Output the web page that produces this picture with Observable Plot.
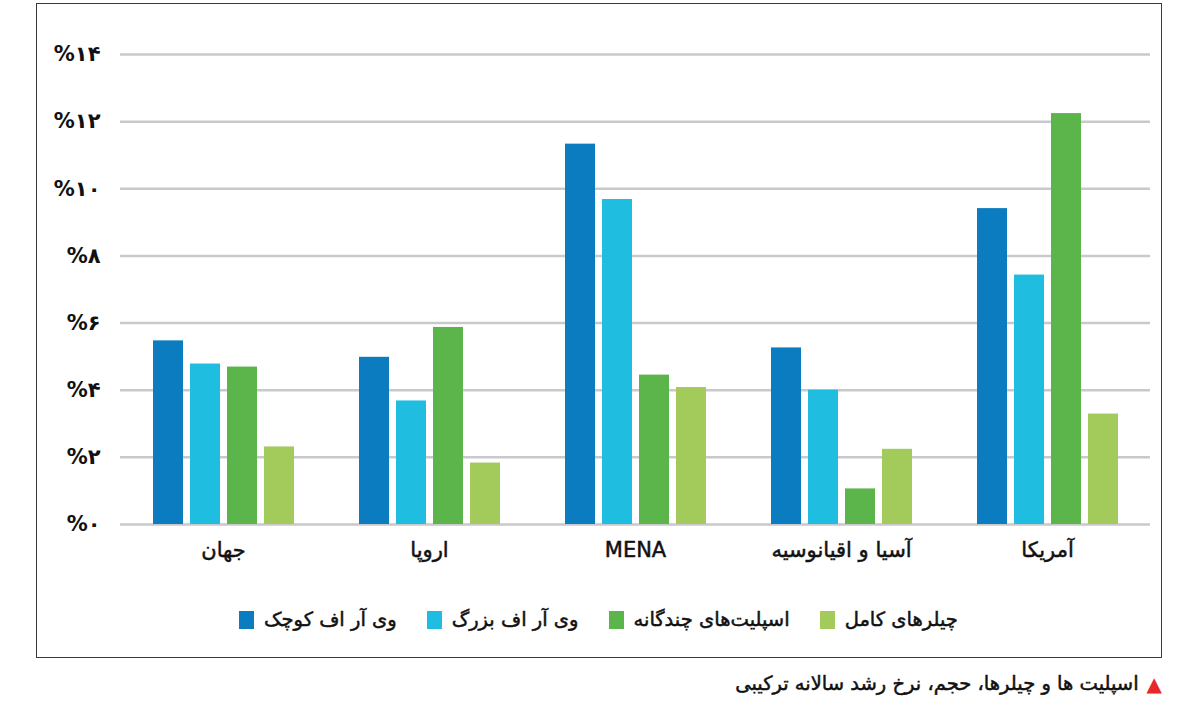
<!DOCTYPE html>
<html>
<head>
<meta charset="utf-8">
<script src="https://cdn.jsdelivr.net/npm/d3@7"></script>
<script src="https://cdn.jsdelivr.net/npm/@observablehq/plot@0.6"></script>
<style>
  html, body { margin: 0; padding: 0; background: #fff; }
  body { width: 1200px; height: 725px; position: relative; overflow: hidden; font-family: "DejaVu Sans", sans-serif; }
  #frame { position: absolute; left: 36px; top: 3px; width: 1124px; height: 653px; border: 1px solid #3a3a3a; box-sizing: content-box; }
  #chart { position: absolute; left: 0; top: 0; }
  #legend { position: absolute; top: 608px; left: 36px; width: 1125px; display: flex; justify-content: center; direction: rtl; gap: 30px; font-size: 19.5px; color: #111; -webkit-text-stroke: 0.5px #111; }
  .item { display: flex; align-items: center; gap: 10px; }
  .sw { width: 15px; height: 18px; display: inline-block; -webkit-text-stroke: 0; }
  #caption { position: absolute; top: 672px; right: 38px; direction: rtl; display: flex; align-items: center; gap: 8px; font-size: 19.5px; color: #111; -webkit-text-stroke: 0.5px #111; }
  .tri { color: #e8262b; font-size: 20px; line-height: 1; -webkit-text-stroke: 0; }
  .fxlab text { stroke: #111; stroke-width: 0.5px; }
</style>
</head>
<body>
<div id="frame"></div>
<div id="chart"></div>
<div id="legend"></div>
<div id="caption"><span class="tri">▲</span><span>اسپلیت ها و چیلرها، حجم، نرخ رشد سالانه ترکیبی</span></div>
<script>
const regions = ["جهان", "اروپا", "MENA", "آسیا و اقیانوسیه", "آمریکا"];
const seriesNames = ["وی آر اف کوچک", "وی آر اف بزرگ", "اسپلیت‌های چندگانه", "چیلرهای کامل"];
const seriesColors = ["#0b7cc0", "#1fbde0", "#5cb54a", "#a2cb5c"];
const smallVRF   = [5.47, 4.98, 11.33, 5.26, 9.41];
const largeVRF   = [4.78, 3.68, 9.68, 4.00, 7.43];
const multiSplit = [4.69, 5.87, 4.45, 1.06, 12.24];
const chillers   = [2.31, 1.83, 4.08, 2.24, 3.29];
const yTicks = [0, 2, 4, 6, 8, 10, 12, 14];
const yTickLabels = ["%۰", "%۲", "%۴", "%۶", "%۸", "%۱۰", "%۱۲", "%۱۴"];

const seriesValues = [smallVRF, largeVRF, multiSplit, chillers];
const table = [];
regions.forEach((r, i) => {
  seriesNames.forEach((s, j) => {
    table.push({region: r, series: s, value: seriesValues[j][i]});
  });
});

const chart = Plot.plot({
  width: 1200,
  height: 580,
  marginLeft: 120,
  marginRight: 50,
  marginTop: 54,
  marginBottom: 56,
  style: {fontFamily: "DejaVu Sans, sans-serif", fontSize: "20px", color: "#111", background: "transparent"},
  fx: {domain: regions, padding: 0, label: null},
  x: {domain: seriesNames, axis: null, paddingInner: 0.2, paddingOuter: 0.83},
  y: {domain: [0, 14], axis: null},
  color: {domain: seriesNames, range: seriesColors},
  marks: [
    Plot.ruleY(yTicks, {stroke: "#c9c9cd", strokeWidth: 2.5}),
    Plot.barY(table, {fx: "region", x: "series", y: "value", fill: "series"}),
    Plot.axisY(yTicks, {anchor: "left", tickSize: 0, tickPadding: 20, label: null,
      tickFormat: d => yTickLabels[yTicks.indexOf(d)], fontSize: 21, fontWeight: "bold"}),
    Plot.axisFx({anchor: "bottom", tickSize: 0, tickPadding: 18, label: null, fontSize: 21, className: "fxlab"})
  ]
});
document.getElementById("chart").appendChild(chart);

const legend = document.getElementById("legend");
for (let j = seriesNames.length - 1; j >= 0; j--) {
  const it = document.createElement("div");
  it.className = "item";
  const lab = document.createElement("span");
  lab.textContent = seriesNames[j];
  const sw = document.createElement("span");
  sw.className = "sw";
  sw.style.background = seriesColors[j];
  it.appendChild(lab);
  it.appendChild(sw);
  legend.appendChild(it);
}
</script>
</body>
</html>
